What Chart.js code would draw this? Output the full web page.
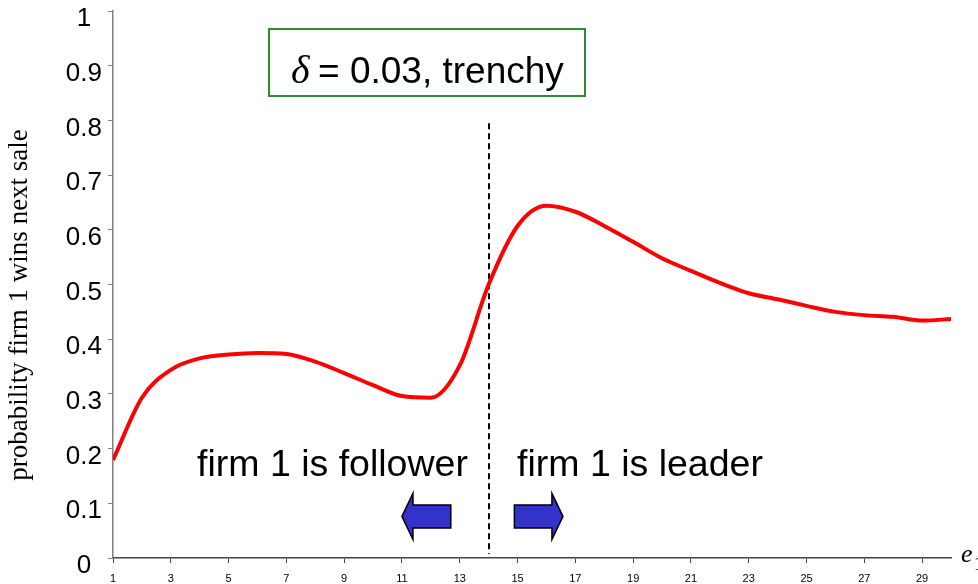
<!DOCTYPE html>
<html>
<head>
<meta charset="utf-8">
<script src="https://cdn.jsdelivr.net/npm/chart.js@4/dist/chart.umd.min.js"></script>
<style>
  html, body { margin: 0; padding: 0; background: #fff; }
  #wrap { width: 978px; height: 584px; }
</style>
</head>
<body>
<div id="wrap"><canvas id="chart" width="978" height="584"></canvas></div>
<script>
// ---------- DATA ----------
const X_VALUES = [1, 2, 3, 4, 5, 6, 7, 8, 9, 10, 11, 12, 13, 14, 15,
                  16, 17, 18, 19, 20, 21, 22, 23, 24, 25, 26, 27, 28, 29, 30];
const PROB_WIN = [0.179, 0.293, 0.344, 0.365, 0.372, 0.375, 0.373, 0.359, 0.338, 0.316,
                  0.296, 0.293, 0.352, 0.500, 0.607, 0.644, 0.633, 0.607, 0.578, 0.548,
                  0.525, 0.503, 0.484, 0.473, 0.461, 0.450, 0.444, 0.441, 0.434, 0.437];
const X_TICKS = [1, 3, 5, 7, 9, 11, 13, 15, 17, 19, 21, 23, 25, 27, 29];
const Y_TICKS = [0, 0.1, 0.2, 0.3, 0.4, 0.5, 0.6, 0.7, 0.8, 0.9, 1];
const DIVIDER_X = 14;
const DIVIDER_TOP = 0.795;

const SANS = 'Arial, "Liberation Sans", sans-serif';
const SERIF = '"Times New Roman", "Liberation Serif", serif';

// ---------- OVERLAYS ----------
function arrow(ctx, tipX, baseX, headX, midY, headHalf, shaftHalf) {
  ctx.beginPath();
  ctx.moveTo(tipX, midY);
  ctx.lineTo(headX, midY - headHalf);
  ctx.lineTo(headX, midY - shaftHalf);
  ctx.lineTo(baseX, midY - shaftHalf);
  ctx.lineTo(baseX, midY + shaftHalf);
  ctx.lineTo(headX, midY + shaftHalf);
  ctx.lineTo(headX, midY + headHalf);
  ctx.closePath();
  ctx.fillStyle = "#3333cc";
  ctx.fill();
  ctx.lineWidth = 1.5;
  ctx.strokeStyle = "#000";
  ctx.stroke();
}

const overlays = {
  id: "overlays",
  beforeDatasetsDraw(chart) {
    const { ctx, scales: { x, y } } = chart;
    const px = Math.round(x.getPixelForValue(DIVIDER_X));
    ctx.save();
    ctx.strokeStyle = "#000";
    ctx.lineWidth = 2;
    ctx.setLineDash([6, 4]);
    ctx.beginPath();
    ctx.moveTo(px, y.getPixelForValue(DIVIDER_TOP));
    ctx.lineTo(px, y.getPixelForValue(0) - 4);
    ctx.stroke();
    ctx.restore();
  },
  afterDraw(chart) {
    const { ctx, scales: { x, y } } = chart;
    ctx.save();

    // y axis name
    ctx.save();
    ctx.translate(20, 305);
    ctx.rotate(-Math.PI / 2);
    ctx.textAlign = "center";
    ctx.textBaseline = "middle";
    ctx.fillStyle = "#000";
    ctx.font = "27px " + SERIF;
    ctx.fillText("probability firm 1 wins next sale", 0, 0);
    ctx.restore();

    // title box
    ctx.strokeStyle = "#2e8b2e";
    ctx.lineWidth = 2;
    ctx.strokeRect(269, 29, 316, 67);
    ctx.fillStyle = "#000";
    ctx.textBaseline = "alphabetic";
    ctx.textAlign = "left";
    ctx.font = "italic 40px " + SERIF;
    ctx.fillText("\u03B4", 291, 83);
    ctx.font = "37px " + SANS;
    ctx.fillText("= 0.03, trenchy", 318, 83);

    // region labels
    ctx.font = "37.5px " + SANS;
    ctx.fillText("firm 1 is follower", 197, 476);
    ctx.fillText("firm 1 is leader", 517, 476);

    // arrows
    const midY = y.getPixelForValue(0.076);
    arrow(ctx, x.getPixelForValue(11.0), x.getPixelForValue(12.69), x.getPixelForValue(11.38), midY, 23, 11.5);
    arrow(ctx, x.getPixelForValue(16.57), x.getPixelForValue(14.89), x.getPixelForValue(16.19), midY, 23, 11.5);

    // x axis name
    ctx.fillStyle = "#000";
    ctx.font = "italic 26px " + SERIF;
    ctx.fillText("e", 961, 562);
    ctx.font = "18px " + SERIF;
    ctx.fillText("1", 974, 570);
    ctx.restore();
  }
};

// ---------- CHART ----------
new Chart(document.getElementById("chart"), {
  type: "line",
  data: {
    datasets: [{
      data: X_VALUES.map((v, i) => ({ x: v, y: PROB_WIN[i] })),
      borderColor: "#ff0000",
      borderWidth: 4,
      pointRadius: 0,
      fill: false,
      cubicInterpolationMode: "monotone"
    }]
  },
  options: {
    responsive: false,
    devicePixelRatio: 1,
    animation: false,
    layout: { padding: { top: 11, right: 27, left: 0, bottom: 0 } },
    plugins: { legend: { display: false }, tooltip: { enabled: false } },
    scales: {
      x: {
        type: "linear",
        min: 1,
        max: 30,
        grid: { drawOnChartArea: false, drawTicks: true, tickLength: 5, color: "#444" },
        border: { color: "#444", width: 1.5 },
        ticks: { font: { size: 11, family: SANS }, color: "#000", padding: 9, maxRotation: 0, autoSkip: false },
        afterBuildTicks: s => { s.ticks = X_TICKS.map(v => ({ value: v })); },
        afterFit: s => { s.height = 26; s.paddingLeft = 0; s.paddingRight = 0; }
      },
      y: {
        min: 0,
        max: 1,
        grid: { drawOnChartArea: false, drawTicks: true, tickLength: 5, color: "#808080" },
        border: { color: "#808080", width: 1.5 },
        ticks: {
          font: { size: 26, family: SANS },
          color: "#000",
          padding: 6,
          crossAlign: "center",
          labelOffset: 8,
          callback: v => String(+v.toFixed(1))
        },
        afterBuildTicks: s => { s.ticks = Y_TICKS.map(v => ({ value: v })); },
        title: { display: false },
        afterFit: s => { s.width = 113; s.paddingTop = 0; s.paddingBottom = 0; }
      }
    }
  },
  plugins: [overlays]
});
</script>
</body>
</html>
